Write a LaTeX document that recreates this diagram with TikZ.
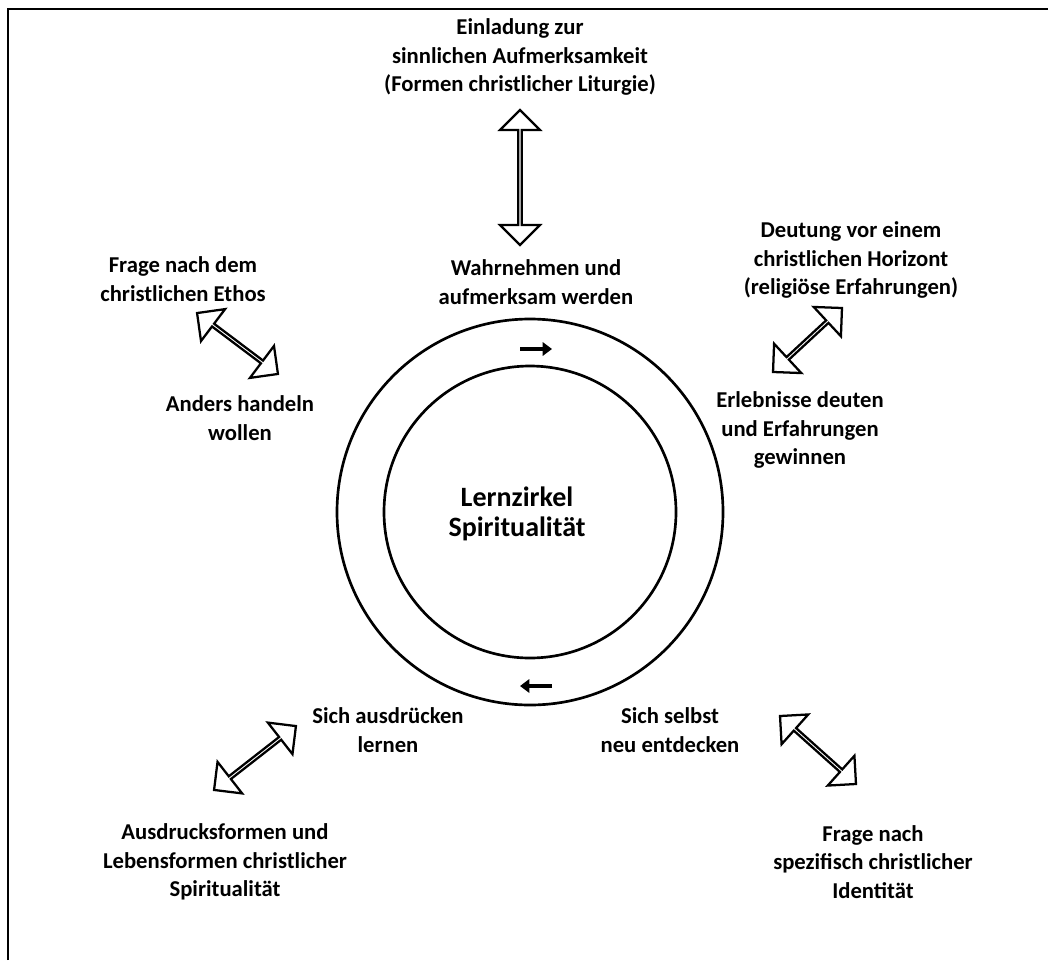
\documentclass[tikz,border=0pt]{standalone}
\usepackage{fontspec}
\setmainfont{Carlito}
\usetikzlibrary{shapes.arrows,arrows.meta,calc}
\tikzset{
  txt/.style={align=center, inner sep=0pt, font=\fontsize{17}{21.5}\selectfont\bfseries},
  dblarrow/.style={double arrow, draw, line width=1.7pt, inner sep=0pt,
    minimum width=30pt, double arrow head extend=9pt, double arrow tip angle=90,
    sloped, midway},
  turn/.style={line width=3.5pt, -{Triangle[length=7pt,width=10pt]}}
}
\begin{document}
\begin{tikzpicture}[x=0.75pt,y=-0.75pt]
\useasboundingbox (0,0) rectangle (1048,960);
\draw[line width=1.4pt] (8,960) -- (8,9) -- (1048,9);

% Kreis
\coordinate (M) at (530,512);
\draw[line width=2pt] (M) circle[radius=193];
\draw[line width=2pt] (M) circle[radius=146];
\node[txt, font=\fontsize{21}{23}\selectfont\bfseries] (zirkel) at (517,514) {Lernzirkel\\Spiritualität};

\coordinate (t1) at (520,349); \coordinate (t2) at (552,349);
\coordinate (b1) at (552,686); \coordinate (b2) at (520,686);
\draw[turn] (t1) -- (t2);
\draw[turn] (b1) -- (b2);

% Stationen
\node[txt] (wahr) at (536,282) {Wahrnehmen und\\aufmerksam werden};
\node[txt] (deuten) at (800,430) {Erlebnisse deuten\\und Erfahrungen\\gewinnen};
\node[txt] (selbst) at (670,730) {Sich selbst\\neu entdecken};
\node[txt] (ausdr) at (388,730) {Sich ausdrücken\\lernen};
\node[txt] (anders) at (240,418) {Anders handeln\\wollen};

% Aussen
\node[txt] (liturgie) at (520,57) {Einladung zur\\sinnlichen Aufmerksamkeit\\(Formen christlicher Liturgie)};
\node[txt] (horizont) at (851,260) {Deutung vor einem\\christlichen Horizont\\(religiöse Erfahrungen)};
\node[txt] (identitaet) at (873,862) {Frage nach\\spezifisch christlicher\\Identität};
\node[txt] (lebensf) at (225,862) {Ausdrucksformen und\\Lebensformen christlicher\\Spiritualität};
\node[txt] (ethos) at (183,279) {Frage nach dem\\christlichen Ethos};

% Pfeile
\coordinate (p1) at (520,110); \coordinate (q1) at (520,245);
\coordinate (p2) at (197,313); \coordinate (q2) at (278,374);
\coordinate (p3) at (773,372); \coordinate (q3) at (842,308);
\coordinate (p4) at (214,790); \coordinate (q4) at (296,726);
\coordinate (p5) at (780,716); \coordinate (q5) at (856,784);
\foreach \i in {1,...,5}
  \path let \p1=($(q\i)-(p\i)$), \n1={veclen(\x1,\y1)} in
    (p\i) -- (q\i) node[dblarrow, minimum height=\n1]{};
\end{tikzpicture}
\end{document}
